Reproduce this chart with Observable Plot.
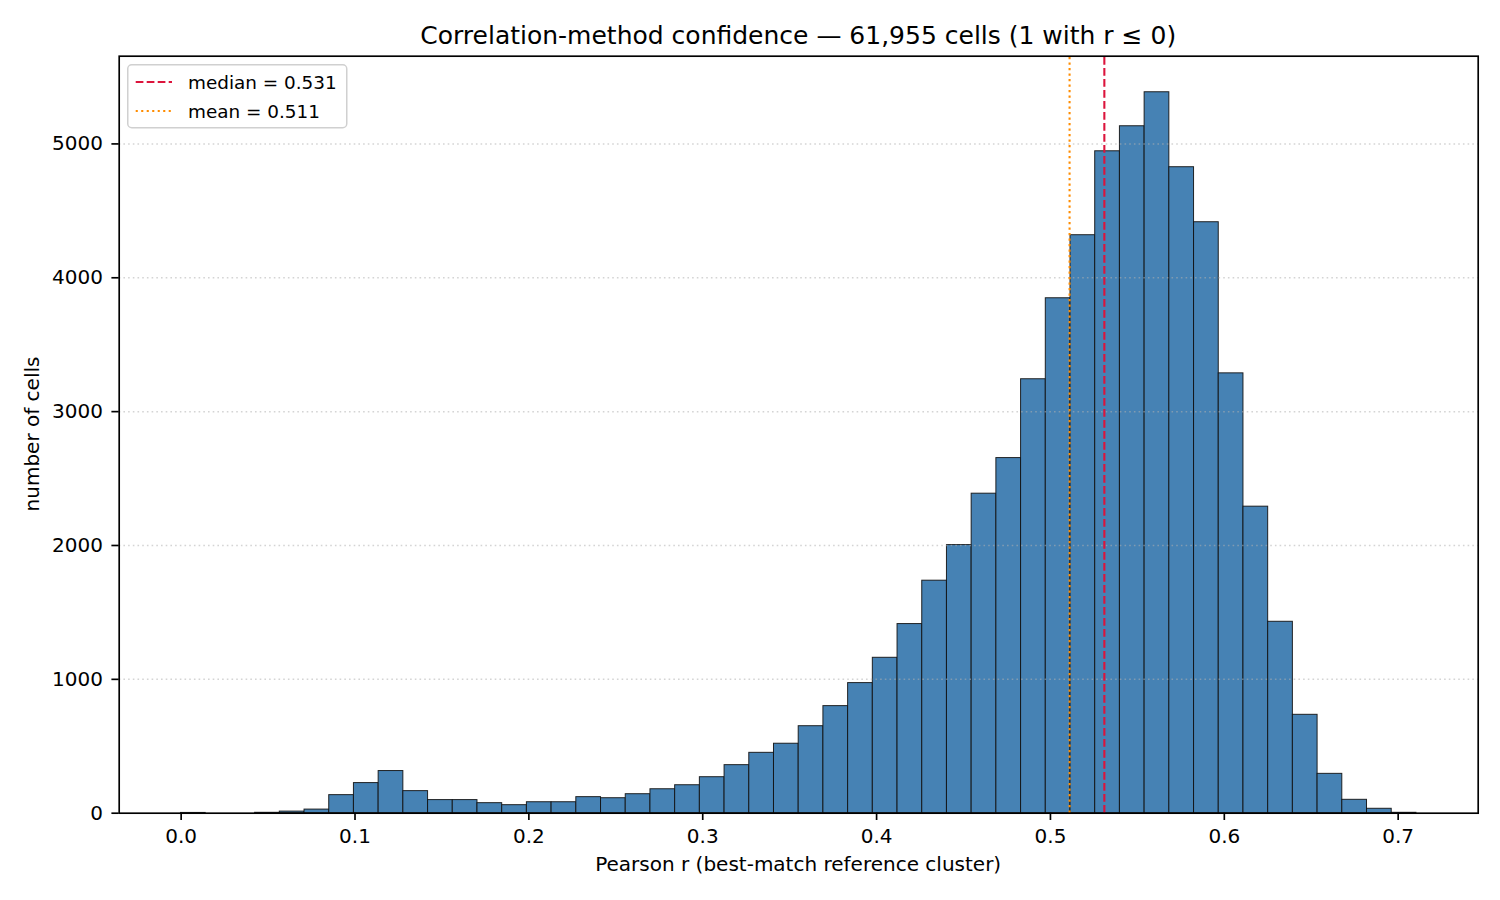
<!DOCTYPE html>
<html>
<head>
<meta charset="utf-8">
<script src="https://cdn.jsdelivr.net/npm/d3@7"></script>
<script src="https://cdn.jsdelivr.net/npm/@observablehq/plot@0.6"></script>
<style>
  html, body { margin: 0; padding: 0; background: #ffffff; }
  #wrap { position: relative; width: 1500px; height: 900px; font-family: "DejaVu Sans", sans-serif; color: #000; overflow: hidden; }
  #chart { position: absolute; left: 0; top: 0; }
  .lbl { position: absolute; white-space: nowrap; text-align: center; }
  #legend { position: absolute; left: 127.3px; top: 64.3px; }
</style>
</head>
<body>
<div id="wrap">
  <div id="chart"></div>
  <div class="lbl" id="title" style="left:398.2px;width:800px;top:23.3px;font-size:25px;line-height:25px;"></div>
  <div class="lbl" id="xlabel" style="left:398.2px;width:800px;top:854.1px;font-size:20px;line-height:20px;"></div>
  <div class="lbl" id="ylabel" style="left:-167.6px;width:400px;top:424.2px;font-size:20px;line-height:20px;transform:rotate(-90deg);"></div>
  <svg id="legend" width="221" height="65"></svg>
</div>
<script>
// ---------------- data ----------------
const titleText = "Correlation-method confidence — 61,955 cells (1 with r ≤ 0)";
const xLabel = "Pearson r (best-match reference cluster)";
const yLabel = "number of cells";

// histogram: 50 equal-width bins between the min and max Pearson r
const rMin = -0.0001;
const rMax = 0.7105;
const binCounts = [
  2, 0, 0, 3, 12, 27, 135, 225, 315, 165,
  98, 98, 75, 60, 82, 82, 120, 112, 142, 179,
  209, 269, 359, 451, 519, 650, 800, 972, 1161, 1413,
  1737, 2003, 2387, 2653, 3242, 3847, 4318, 4945, 5132, 5386,
  4826, 4415, 3286, 2290, 1430, 735, 294, 100, 33, 3
];

const statNames = ["median", "mean"];
const statValues = [0.531, 0.511];

const xTicks = [0.0, 0.1, 0.2, 0.3, 0.4, 0.5, 0.6, 0.7];
const yTicks = [0, 1000, 2000, 3000, 4000, 5000];

// ---------------- derived table ----------------
const nBins = binCounts.length;
const binW = (rMax - rMin) / nBins;
const bins = binCounts.map((c, i) => ({x1: rMin + i * binW, x2: rMin + (i + 1) * binW, count: c}));
const stats = statNames.map((n, i) => ({name: n, value: statValues[i]}));

// matplotlib-like 5% margins
const xPad = (rMax - rMin) * 0.05;
const xDomain = [rMin - xPad, rMax + xPad];
const yTop = d3.max(binCounts) * 1.05;

// ---------------- styles ----------------
const barFill = "#4682b4";
const medianColor = "#dc143c";
const meanColor = "#ff8c00";
const statStyle = {
  median: {stroke: medianColor, dash: "7.7,3.3"},
  mean: {stroke: meanColor, dash: "2.1,3.4"}
};

const chart = Plot.plot({
  width: 1500,
  height: 900,
  marginLeft: 118.7,
  marginRight: 22.3,
  marginTop: 55.7,
  marginBottom: 87.3,
  style: {fontFamily: "DejaVu Sans", fontSize: "20px", color: "#000", background: "#fff", overflow: "visible"},
  x: {domain: xDomain, axis: null},
  y: {domain: [0, yTop], axis: null},
  marks: [
    Plot.rectY(bins, {x1: "x1", x2: "x2", y1: 0, y2: "count", fill: barFill, stroke: "#111", strokeWidth: 1.0, strokeOpacity: 0.9}),
    Plot.gridY(yTicks.filter(d => d > 0), {stroke: "#b0b0b0", strokeOpacity: 0.55, strokeWidth: 1.5, strokeDasharray: "1.6,3.1"}),
    Plot.ruleX(stats.filter(d => d.name === "mean"), {x: "value", y1: 0, y2: yTop, stroke: statStyle.mean.stroke, strokeWidth: 2.08, strokeDasharray: statStyle.mean.dash}),
    Plot.ruleX(stats.filter(d => d.name === "median"), {x: "value", y1: 0, y2: yTop, stroke: statStyle.median.stroke, strokeWidth: 2.08, strokeDasharray: statStyle.median.dash}),
    Plot.axisX({ticks: xTicks, tickFormat: d => d.toFixed(1), tickSize: 7.3, tickPadding: 8.5, strokeWidth: 1.67, stroke: "#000", label: null, fontSize: 20}),
    Plot.axisY({ticks: yTicks, tickFormat: d => String(d), tickSize: 7.3, tickPadding: 9, strokeWidth: 1.67, stroke: "#000", label: null, fontSize: 20}),
    Plot.frame({stroke: "#000", strokeWidth: 1.67})
  ]
});
document.getElementById("chart").appendChild(chart);

document.getElementById("title").textContent = titleText;
document.getElementById("xlabel").textContent = xLabel;
document.getElementById("ylabel").textContent = yLabel;

// ---------------- legend ----------------
const leg = d3.select("#legend");
leg.append("rect").attr("x", 0.75).attr("y", 0.75).attr("width", 219).attr("height", 63)
  .attr("rx", 4).attr("fill", "#fff").attr("fill-opacity", 0.8)
  .attr("stroke", "#d0d0d0").attr("stroke-width", 1.5);
const fmt = d3.format(".3f");
stats.forEach((s, i) => {
  const cy = 18 + i * 29;
  leg.append("line").attr("x1", 8.7).attr("x2", 45).attr("y1", cy).attr("y2", cy)
    .attr("stroke", statStyle[s.name].stroke).attr("stroke-width", 2.08)
    .attr("stroke-dasharray", statStyle[s.name].dash);
  leg.append("text").attr("x", 61).attr("y", cy + 6.5)
    .attr("font-family", "DejaVu Sans").attr("font-size", 18.4).attr("fill", "#000")
    .text(`${s.name} = ${fmt(s.value)}`);
});
</script>
</body>
</html>
